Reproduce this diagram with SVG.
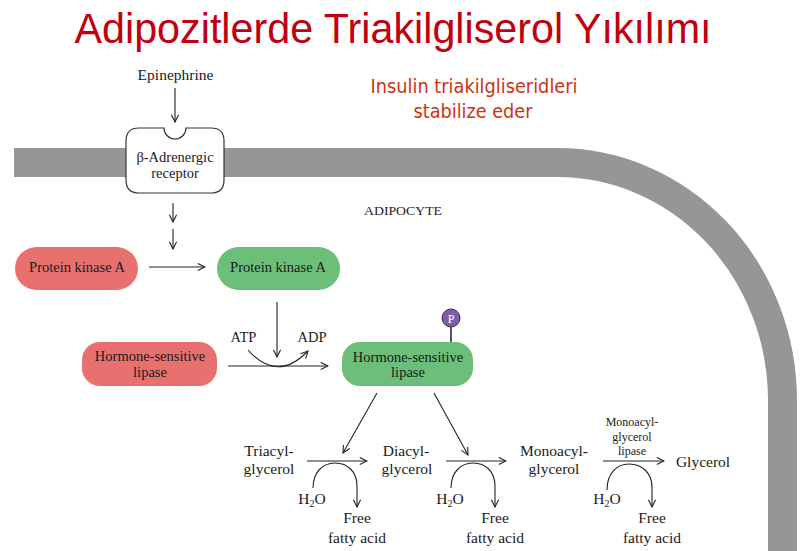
<svg xmlns="http://www.w3.org/2000/svg" width="800" height="551" viewBox="0 0 800 551">
<defs>
<marker id="ah" viewBox="0 0 10 10" refX="9" refY="5" markerWidth="9" markerHeight="9" markerUnits="userSpaceOnUse" orient="auto">
<path d="M1,1 L9,5 L1,9" fill="none" stroke="#222" stroke-width="1.2"/>
</marker>
</defs>
<style>
.t{font-family:"Liberation Serif","Times New Roman",serif;fill:#1a1a1a;text-anchor:middle}
.l{font-size:15.5px}
.s{font-size:12px}
.b{font-size:14.5px}
.c{fill:none;stroke:#222;stroke-width:1.1}
.a{fill:none;stroke:#222;stroke-width:1.1;marker-end:url(#ah)}
.red{fill:#e87170}
.grn{fill:#6bbf79}
</style>
<rect width="800" height="551" fill="#fff"/>
<text x="393" y="43" font-family="'Liberation Sans',Arial,sans-serif" font-size="42" fill="#c00010" text-anchor="middle" textLength="637" lengthAdjust="spacingAndGlyphs">Adipozitlerde Triakilgliserol Yıkılımı</text>
<g id="note" font-family="'DejaVu Sans',Verdana,sans-serif" font-size="19" fill="#cc3311" text-anchor="middle">
<text x="474" y="93" textLength="207" lengthAdjust="spacingAndGlyphs">Insulin triakilgliseridleri</text>
<text x="473" y="118" textLength="119" lengthAdjust="spacingAndGlyphs">stabilize eder</text>
</g>
<g id="membrane">
<path d="M14,162.5 H557 A225,238 0 0 1 782.5,400 V551" fill="none" stroke="#969696" stroke-width="29"/>
</g>
<text class="t" x="403" y="215" font-size="12" textLength="78" lengthAdjust="spacingAndGlyphs">ADIPOCYTE</text>
<g id="connectors">
<line class="a" x1="175" y1="88" x2="175" y2="122"/>
<line class="a" x1="173" y1="203" x2="173" y2="222"/>
<line class="a" x1="173" y1="229" x2="173" y2="249"/>
<line class="a" x1="149" y1="267" x2="205" y2="267"/>
<line class="a" x1="277" y1="302" x2="277" y2="357"/>
<line class="a" x1="228" y1="366" x2="328" y2="366"/>
<path class="a" d="M248,350 Q277,383 308,351"/>
<line class="a" x1="377" y1="393" x2="343" y2="453"/>
<line class="a" x1="434" y1="393" x2="468" y2="455"/>
<line class="a" x1="307" y1="461" x2="367" y2="461"/>
<path class="a" d="M313,488 C313,472 323,463 335,463 C348,463 357,472 357,486 V507"/>
<line class="a" x1="446" y1="461" x2="506" y2="461"/>
<path class="a" d="M451,488 C451,472 461,463 473,463 C486,463 495,472 495,486 V507"/>
<line class="a" x1="603" y1="461" x2="664" y2="461"/>
<path class="a" d="M607,490 C607,473 617,464 629,464 C642,464 652,473 652,487 V507"/>
<line x1="451" y1="327" x2="451" y2="343" stroke="#555" stroke-width="2"/>
</g>
<text class="t l" x="175.5" y="80">Epinephrine</text>
<g id="receptor">
<path d="M139,128 H164 A11,11 0 0 0 186,128 H211 Q224,128 224,141 V180 Q224,193 211,193 H139 Q126,193 126,180 V141 Q126,128 139,128 Z" fill="#fff" stroke="#333" stroke-width="1.2"/>
<text class="t b" x="175" y="162">β-Adrenergic</text>
<text class="t b" x="175" y="178">receptor</text>
</g>
<g id="pka-inactive">
<rect class="red" x="15" y="247" width="123" height="43" rx="21.5"/>
<text class="t b" x="77" y="272">Protein kinase A</text>
</g>
<g id="pka-active">
<rect class="grn" x="217" y="247" width="123" height="43" rx="21.5"/>
<text class="t b" x="278" y="272">Protein kinase A</text>
</g>
<text class="t b" x="243.5" y="342">ATP</text>
<text class="t b" x="312" y="342">ADP</text>
<g id="hsl-inactive">
<rect class="red" x="82" y="342" width="135" height="44" rx="18"/>
<text class="t b" x="150" y="361">Hormone-sensitive</text>
<text class="t b" x="150" y="377">lipase</text>
</g>
<g id="hsl-active">
<rect class="grn" x="342" y="342" width="131" height="44" rx="18"/>
<text class="t b" x="408" y="362">Hormone-sensitive</text>
<text class="t b" x="408" y="377">lipase</text>
<circle cx="451" cy="318" r="9" fill="#7e5ea6" stroke="#3a2a50" stroke-width="1"/>
<text x="451" y="323" font-family="'Liberation Serif',serif" font-size="12" fill="#fff" text-anchor="middle">P</text>
</g>
<g id="tag">
<text class="t l" x="269" y="456">Triacyl-</text>
<text class="t l" x="269" y="474">glycerol</text>
</g>
<g id="dag">
<text class="t l" x="406" y="456">Diacyl-</text>
<text class="t l" x="407" y="474">glycerol</text>
</g>
<g id="mag">
<text class="t l" x="554" y="456">Monoacyl-</text>
<text class="t l" x="554" y="474">glycerol</text>
</g>
<g id="glycerol">
<text class="t l" x="703" y="467">Glycerol</text>
</g>
<g id="mgl">
<text class="t s" x="632" y="426">Monoacyl-</text>
<text class="t s" x="632" y="441">glycerol</text>
<text class="t s" x="632" y="455">lipase</text>
</g>
<g id="h2o-1"><text class="t l" x="312" y="504">H<tspan font-size="10" dy="3">2</tspan><tspan dy="-3">O</tspan></text></g>
<g id="h2o-2"><text class="t l" x="450" y="504">H<tspan font-size="10" dy="3">2</tspan><tspan dy="-3">O</tspan></text></g>
<g id="h2o-3"><text class="t l" x="607" y="504">H<tspan font-size="10" dy="3">2</tspan><tspan dy="-3">O</tspan></text></g>
<g id="ffa-1"><text class="t l" x="357" y="523">Free</text><text class="t l" x="357" y="543">fatty acid</text></g>
<g id="ffa-2"><text class="t l" x="495" y="523">Free</text><text class="t l" x="495" y="543">fatty acid</text></g>
<g id="ffa-3"><text class="t l" x="652" y="523">Free</text><text class="t l" x="652" y="543">fatty acid</text></g>
</svg>
